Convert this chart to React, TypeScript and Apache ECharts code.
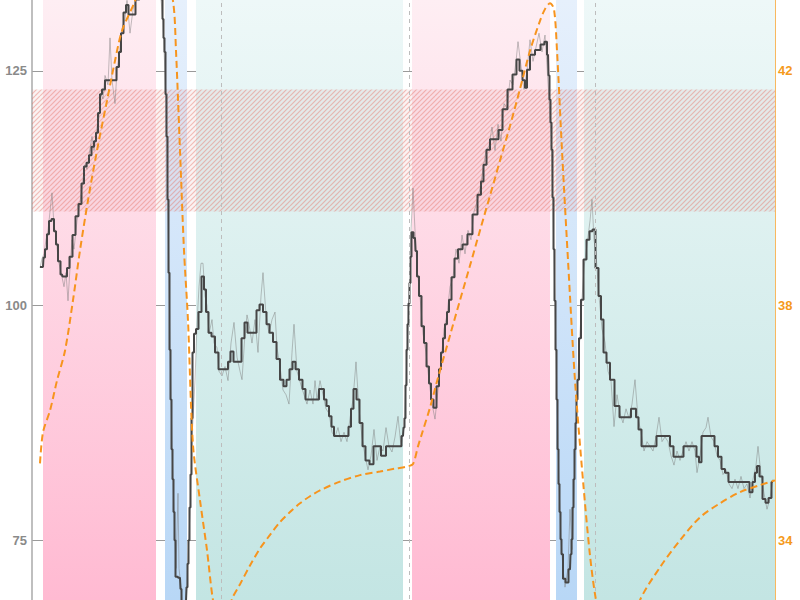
import React, { useEffect, useRef } from "react";
import * as echarts from "echarts";

// time in minutes, heart rate in bpm
const HR_SMOOTH: [number, number][] = [
  [0.8, 104.1], [1.1, 104.1], [1.2, 105.1], [1.4, 106], [1.6, 107.6], [1.8, 109], [2.1, 109.2], [2.3, 107.9],
  [2.5, 106.5], [2.7, 104.7], [3.0, 103.3], [3.1, 103.1], [3.4, 103.1], [3.6, 104], [3.9, 105.2], [4.2, 107.5],
  [4.5, 109.5], [4.8, 110.8], [5.1, 113], [5.3, 114.8], [5.6, 115.2], [5.8, 116], [6.1, 116.9], [6.3, 117.5],
  [6.5, 118.4], [6.7, 120.5], [6.9, 122.5], [7.1, 123], [7.5, 124], [8.3, 124], [8.6, 125.4], [8.8, 127],
  [9.0, 129], [9.3, 131.2], [9.5, 132], [9.8, 131], [10.2, 131], [10.5, 132.6], [11.0, 134.5], [11.6, 135.5],
  [12.2, 135.5], [12.6, 134.5], [12.9, 133], [13.0, 132.6], [13.1, 130.5], [13.2, 128.5], [13.3, 127], [13.4, 122.5],
  [13.5, 118], [13.6, 111.3], [13.7, 103.5], [13.8, 95.3], [13.9, 90], [14.0, 84.7], [14.1, 81.5], [14.2, 78],
  [14.3, 75], [14.4, 71.1], [14.8, 71], [14.9, 69.8], [15.0, 68.5], [15.2, 66.5], [15.4, 68.5], [15.5, 70],
  [15.6, 72.5], [15.7, 75], [15.8, 78.5], [15.9, 82], [16.0, 88], [16.1, 95], [16.3, 97], [16.5, 97.5],
  [16.8, 99.3], [17.1, 103.1],
  [17.3, 101.7], [17.5, 99.3], [17.8, 97.1], [18.1, 96.7], [18.5, 95], [18.8, 93.2], [19.5, 93.2], [19.7, 94],
  [20.0, 95.1], [20.3, 94], [20.8, 94], [21.1, 96.5], [21.4, 98.2], [21.7, 97.1], [22.3, 97.1], [22.6, 99.5],
  [22.9, 100.1], [23.3, 99.3], [23.6, 98], [23.9, 97.1], [24.3, 96.1], [24.6, 94.3], [25.0, 92.1], [25.3, 91.4],
  [25.6, 92.1], [25.9, 93.2], [26.2, 94], [26.5, 93.2], [26.9, 92.1], [27.2, 91.1], [27.5, 90], [28.6, 90],
  [28.8, 91.1], [29.1, 91.1], [29.3, 90], [29.6, 89.3], [29.8, 88.2], [30.1, 87.1], [30.3, 86.1], [31.5, 86.1],
  [31.8, 87.1], [32.0, 89], [32.3, 91.1], [32.6, 90], [32.9, 87.5], [33.2, 85], [33.5, 83.5], [34.0, 83.1],
  [34.3, 85], [34.8, 85], [35.0, 84], [35.3, 84], [35.5, 85], [36.8, 85], [37.1, 86.1], [37.2, 87],
  [37.3, 88], [37.4, 91.5], [37.5, 95.3], [37.6, 98], [37.7, 100.2], [37.8, 102.4], [37.9, 105.2], [38.0, 107.8],
  [38.3, 107.2], [38.4, 105.8], [38.6, 103.1], [38.8, 101], [39.1, 97.8], [39.3, 96], [39.6, 93.5], [39.8, 91.7],
  [40.0, 90], [40.3, 89.1], [40.6, 91.4], [40.8, 93.2], [41.0, 95], [41.2, 96.5], [41.4, 98], [41.6, 99.3],
  [41.8, 100.6], [42.1, 103], [42.4, 105], [42.8, 106],
  [43.3, 106.5], [43.8, 107.6], [44.3, 109.7], [44.8, 111.8], [45.0, 113.2], [45.3, 115], [45.6, 116.6], [46.0, 117.7], [46.5, 117.7],
  [46.8, 118.7], [47.3, 120.9], [47.8, 123], [48.3, 124.6], [48.6, 126.2], [48.9, 125], [49.2, 124], [49.4, 123.2],
  [49.6, 125.1], [50.0, 126.7], [50.6, 127.2], [51.1, 127.8], [51.4, 128.1], [51.6, 126.7], [51.7, 124.5], [51.8, 121.9],
  [51.9, 119.5], [52.0, 116.6], [52.1, 111.5], [52.2, 106], [52.3, 100.5], [52.4, 95.3], [52.5, 90], [52.6, 84.7],
  [52.7, 81], [52.8, 78], [52.9, 75.1], [53.0, 73.5], [53.2, 70.9], [53.5, 70.5], [53.8, 71.9], [53.9, 73.5],
  [54.0, 75.1], [54.1, 78.5], [54.2, 81.5], [54.3, 84.7], [54.4, 87.5], [54.5, 90], [54.6, 92.1], [54.8, 96.5],
  [55.0, 100.6], [55.3, 104.9], [55.6, 107], [55.9, 107.9], [56.2, 108.1], [56.5, 104],
  [56.8, 101], [57.0, 98.5], [57.3, 95], [57.6, 93.9], [58.0, 92.1], [58.5, 89.3], [59.0, 88.1], [59.8, 88.1],
  [60.0, 89], [60.3, 89], [60.5, 88.1], [60.8, 86.8], [61.1, 85], [62.3, 85], [62.6, 86.1], [63.6, 86.1],
  [64.0, 85], [64.3, 83.9], [65.0, 83.9], [65.3, 85], [66.3, 85], [66.6, 83.9], [66.8, 83.3], [67.1, 86.1],
  [68.1, 86.1], [68.4, 85], [68.8, 83.9], [69.1, 82.6], [69.5, 82.2], [69.8, 81.2], [71.6, 81.2], [71.9, 80.1],
  [72.2, 81.2], [72.4, 82.2], [72.6, 82.9], [72.9, 81.8], [73.2, 79.4], [73.5, 79], [73.8, 79.5], [74.1, 81.2],
];

const HR_RAW: [number, number][] = [
  [0.8, 104], [1.0, 105], [1.2, 105.5], [1.4, 107], [1.6, 108], [1.8, 110], [2.0, 112], [2.2, 108.5],
  [2.4, 107.5], [2.6, 105], [2.8, 104], [3.0, 103], [3.2, 102], [3.4, 103.5], [3.6, 100.5], [3.8, 104],
  [4.0, 107], [4.2, 106], [4.5, 109], [4.8, 111], [5.1, 113.5], [5.3, 115], [5.5, 114.5], [5.7, 116],
  [6.0, 118], [6.2, 116.5], [6.5, 119], [6.7, 120], [6.9, 122.5], [7.1, 122], [7.3, 124.5], [7.6, 123.5],
  [7.8, 128.5], [8.0, 124], [8.3, 121.5], [8.5, 125], [8.8, 127.5], [9.0, 129.5], [9.3, 130.5], [9.5, 132.5],
  [9.8, 129], [10.1, 131.5], [10.5, 133], [11.3, 135.5], [12.1, 136], [12.8, 134], [13.1, 130], [13.4, 122],
  [13.6, 110], [13.8, 96], [14.0, 85], [14.2, 78], [14.4, 72], [14.6, 80], [14.7, 72], [14.9, 70],
  [15.1, 67], [15.4, 68], [15.6, 73], [15.8, 78], [16.0, 86], [16.2, 90], [16.3, 92], [16.5, 98],
  [16.7, 102], [16.9, 104.5], [17.1, 104.5], [17.3, 101], [17.5, 100], [17.7, 97], [18.0, 98.5], [18.2, 96],
  [18.5, 95.5], [18.7, 93], [19.0, 92.5], [19.3, 93.5], [19.6, 92], [19.9, 96], [20.2, 98.2], [20.5, 94.5],
  [20.8, 93], [21.0, 92.1], [21.3, 97], [21.5, 99], [21.7, 98], [22.0, 96], [22.3, 98.5], [22.6, 95],
  [22.9, 101], [23.1, 103.5], [23.4, 99], [23.7, 97], [24.0, 98.5], [24.3, 99.3], [24.5, 95.5], [24.8, 93.5],
  [25.1, 91], [25.4, 90.5], [25.7, 89.5], [26.0, 95], [26.2, 98], [26.5, 93], [26.9, 91.5], [27.2, 90.5],
  [27.5, 89.5], [27.8, 91], [28.1, 89.5], [28.3, 92], [28.5, 90], [28.8, 92], [29.1, 90.5], [29.4, 89],
  [29.7, 88.5], [30.0, 86.5], [30.3, 86], [30.6, 87], [30.9, 85.5], [31.2, 86.5], [31.5, 85.5], [31.8, 88],
  [32.1, 90], [32.4, 94], [32.7, 89], [33.0, 86], [33.3, 84], [33.6, 82.5], [33.9, 84], [34.2, 86.8],
  [34.5, 83.5], [34.8, 85], [35.1, 84.5], [35.4, 87], [35.7, 85], [36.0, 84.4], [36.3, 86], [36.6, 88.2],
  [36.9, 85], [37.2, 87], [37.4, 92], [37.7, 101], [37.9, 108], [38.1, 112.5], [38.3, 108], [38.5, 104],
  [38.8, 101], [39.1, 97], [39.4, 95], [39.7, 92], [40.0, 89.5], [40.3, 87.9], [40.6, 91], [40.9, 94],
  [41.2, 97.5], [41.5, 99], [41.8, 102], [42.1, 103], [42.4, 106], [42.7, 104.5], [43.0, 107.5], [43.3, 105.5],
  [43.6, 108], [43.9, 107], [44.2, 110], [44.5, 111], [44.8, 112.5], [45.1, 114.5], [45.4, 116.5], [45.7, 117],
  [46.0, 119], [46.3, 116.5], [46.6, 119.3], [46.9, 117.5], [47.2, 121.5], [47.5, 121], [47.8, 124], [48.1, 123.5],
  [48.4, 126], [48.6, 128.1], [48.9, 125.5], [49.2, 123], [49.5, 125], [49.8, 128.3], [50.1, 126], [50.4, 127.5],
  [50.7, 129], [51.0, 127], [51.3, 128.8], [51.5, 125.5], [51.7, 122], [51.9, 118], [52.1, 110], [52.3, 100],
  [52.5, 90], [52.7, 81], [52.9, 75], [53.1, 72], [53.3, 70], [53.6, 72], [53.8, 78.3], [54.0, 74],
  [54.2, 80], [54.4, 88], [54.6, 93], [54.9, 99], [55.2, 104], [55.5, 106.5], [55.8, 109], [56.0, 111.3],
  [56.2, 107], [56.4, 105.5], [56.7, 101], [57.0, 97.5], [57.3, 96.1], [57.6, 93], [57.9, 92], [58.2, 87.1],
  [58.5, 90.5], [58.8, 88.5], [59.1, 87.5], [59.4, 89], [59.7, 88], [60.0, 89.5], [60.3, 92.1], [60.6, 88],
  [60.9, 86.5], [61.2, 84.5], [61.5, 85.5], [61.8, 85], [62.1, 84.5], [62.4, 86], [62.7, 88.1], [63.0, 85.5],
  [63.3, 86], [63.6, 85.5], [63.9, 84], [64.2, 83], [64.5, 84.5], [64.8, 83.5], [65.1, 84.5], [65.4, 85.5],
  [65.7, 84.5], [66.0, 85.5], [66.3, 84.5], [66.5, 82.2], [66.8, 84], [67.1, 86.5], [67.4, 87], [67.6, 88.1],
  [67.9, 86], [68.2, 85.5], [68.5, 84], [68.8, 83.5], [69.1, 82], [69.4, 82.5], [69.7, 81], [70.0, 80.5],
  [70.3, 81.5], [70.6, 80.5], [70.9, 81.8], [71.2, 80.5], [71.5, 81], [71.8, 79.5], [72.1, 81.5], [72.4, 83],
  [72.6, 85], [72.9, 82], [73.2, 80], [73.5, 78.3], [73.8, 79.5], [74.1, 81.5],
];

// core temperature, °C
const TEMP: [number, number][] = [
  [0.8, 35.31], [1.1, 35.84], [1.8, 36.21], [2.5, 36.72], [3.3, 37.23], [4.1, 38.09], [4.8, 38.94], [5.6, 39.79],
  [6.5, 40.64], [7.5, 41.49], [8.3, 42.17], [9.0, 42.68], [10.3, 43.19], [11.3, 43.7], [12.3, 43.9], [13.3, 43.6],
  [14.1, 43.19], [14.4, 42.34], [14.8, 40.64], [15.2, 38.94], [15.6, 37.74], [16.1, 35.62], [16.8, 34.68], [17.5, 33.83],
  [18.1, 32.98], [18.6, 32.7], [19.3, 32.62], [20.0, 33.0], [20.8, 33.25], [21.8, 33.57], [22.8, 33.86], [23.8, 34.09],
  [24.8, 34.31], [25.8, 34.48], [26.8, 34.63], [27.8, 34.75], [28.8, 34.85], [30.8, 35.0], [32.8, 35.11], [34.8, 35.17],
  [36.3, 35.22], [37.6, 35.26], [38.1, 35.3], [38.6, 35.6], [39.0, 35.82], [39.8, 36.26], [40.6, 36.77], [41.8, 37.49],
  [42.8, 38.09], [43.8, 38.68], [44.8, 39.28], [45.8, 39.87], [46.8, 40.47], [47.8, 41.06], [48.8, 41.69], [49.8, 42.34],
  [50.8, 42.85], [51.3, 43.05], [51.8, 43.15], [52.2, 43.05], [52.5, 42.34], [53.0, 40.64], [53.6, 38.77], [54.3, 36.72],
  [55.1, 35.02], [55.8, 33.74], [56.4, 32.98], [57.3, 32.3], [58.3, 32.0], [59.3, 32.1], [60.1, 32.5], [60.8, 32.98],
  [62.8, 33.54], [64.8, 34.0], [66.8, 34.39], [68.8, 34.63], [70.8, 34.82], [72.8, 34.94], [74.3, 35.02],
];

const PHASE_KIND = ["heat", "plunge", "recover", "heat", "plunge", "recover"];
const PHASE_START = [1.1, 13.3, 16.4, 38.0, 52.4, 55.2];
const PHASE_END = [12.4, 15.5, 37.1, 51.8, 54.5, 74.3];
const MARKER_TIMES = [18.9, 37.7, 56.3];
const ZONE_LOW = 110;
const ZONE_HIGH = 123;

const PHASE_COLORS: Record<string, [string, string]> = {
  heat: ["#feeef3", "#ffbad2"],
  plunge: ["#e6f0fc", "#b8d7f6"],
  recover: ["#eef8f8", "#c3e5e3"],
};

function makeHatch(): HTMLCanvasElement {
  const c = document.createElement("canvas");
  c.width = 10;
  c.height = 10;
  const ctx = c.getContext("2d")!;
  ctx.fillStyle = "rgba(215,160,160,0.12)";
  ctx.fillRect(0, 0, 10, 10);
  ctx.strokeStyle = "rgba(232,112,100,0.42)";
  ctx.lineWidth = 1.2;
  ctx.beginPath();
  for (let k = -10; k <= 20; k += 5) {
    ctx.moveTo(k, 10);
    ctx.lineTo(k + 10, 0);
  }
  ctx.stroke();
  return c;
}

export default function App() {
  const ref = useRef<HTMLDivElement>(null);
  useEffect(() => {
    if (!ref.current) return;
    const chart = echarts.init(ref.current, null, { renderer: "svg" });
    const gTop = 0.1747;
    const gBot = 0.8136;
    const bands = PHASE_KIND.map((k, i) => {
      const [c0, c1] = PHASE_COLORS[k];
      return [
        {
          xAxis: PHASE_START[i],
          itemStyle: {
            color: new echarts.graphic.LinearGradient(0, 0, 0, 1, [
              { offset: 0, color: c0 },
              { offset: gTop, color: c0 },
              { offset: gBot, color: c1 },
              { offset: 1, color: c1 },
            ]),
          },
        },
        { xAxis: PHASE_END[i] },
      ];
    });
    const hatch = makeHatch();
    chart.setOption({
      animation: false,
      backgroundColor: "#ffffff",
      grid: { left: 32, right: 25, top: 0, bottom: 0 },
      xAxis: {
        type: "value",
        min: 0,
        max: 74.3,
        show: false,
        splitLine: { show: false },
      },
      yAxis: [
        {
          type: "value",
          min: 50,
          max: 150,
          interval: 25,
          axisLine: { show: true, lineStyle: { color: "#aaaaaa", width: 1.5 } },
          axisTick: { show: false },
          axisLabel: {
            color: "#8a8a8a",
            fontWeight: "bold",
            fontSize: 13,
            margin: 5,
            fontFamily: "Liberation Sans, Arial, sans-serif",
            showMinLabel: false,
            showMaxLabel: false,
          },
          splitLine: { show: true, lineStyle: { color: "#9a9a9a", width: 1 } },
        },
        {
          type: "value",
          min: 30,
          max: 46,
          interval: 4,
          position: "right",
          axisLine: { show: true, lineStyle: { color: "#f6a02a", width: 1.5 } },
          axisTick: { show: false },
          axisLabel: {
            color: "#f59a1b",
            fontWeight: "bold",
            fontSize: 13,
            margin: 3,
            fontFamily: "Liberation Sans, Arial, sans-serif",
            showMinLabel: false,
            showMaxLabel: false,
          },
          splitLine: { show: false },
        },
      ],
      series: [
        {
          name: "phases",
          type: "line",
          data: [],
          z: 1,
          silent: true,
          markArea: { silent: true, data: bands },
          markLine: {
            silent: true,
            symbol: "none",
            label: { show: false },
            lineStyle: { color: "#bdbdbd", type: [4, 4], width: 1 },
            data: MARKER_TIMES.map((t) => ({ xAxis: t })),
          },
        },
        {
          name: "zone",
          type: "line",
          data: [],
          z: 1,
          silent: true,
          markArea: {
            silent: true,
            itemStyle: { color: { image: hatch, repeat: "repeat" } as any },
            data: [[{ yAxis: ZONE_LOW }, { yAxis: ZONE_HIGH }]],
          },
        },
        {
          name: "raw",
          type: "line",
          data: HR_RAW,
          showSymbol: false,
          z: 3,
          lineStyle: { color: "rgba(120,120,120,0.45)", width: 1 },
        },
        {
          name: "hr",
          type: "line",
          data: HR_SMOOTH,
          showSymbol: false,
          step: "middle",
          z: 4,
          lineStyle: { color: "#464646", width: 2 },
        },
        {
          name: "temp",
          type: "line",
          yAxisIndex: 1,
          data: TEMP,
          showSymbol: false,
          smooth: 0.3,
          z: 5,
          lineStyle: { color: "#f7941d", width: 2, type: [7, 4] },
        },
      ],
    });
    return () => chart.dispose();
  }, []);
  return (
    <div
      ref={ref}
      style={{ position: "fixed", left: 0, top: -164, width: 800, height: 939 }}
    />
  );
}
